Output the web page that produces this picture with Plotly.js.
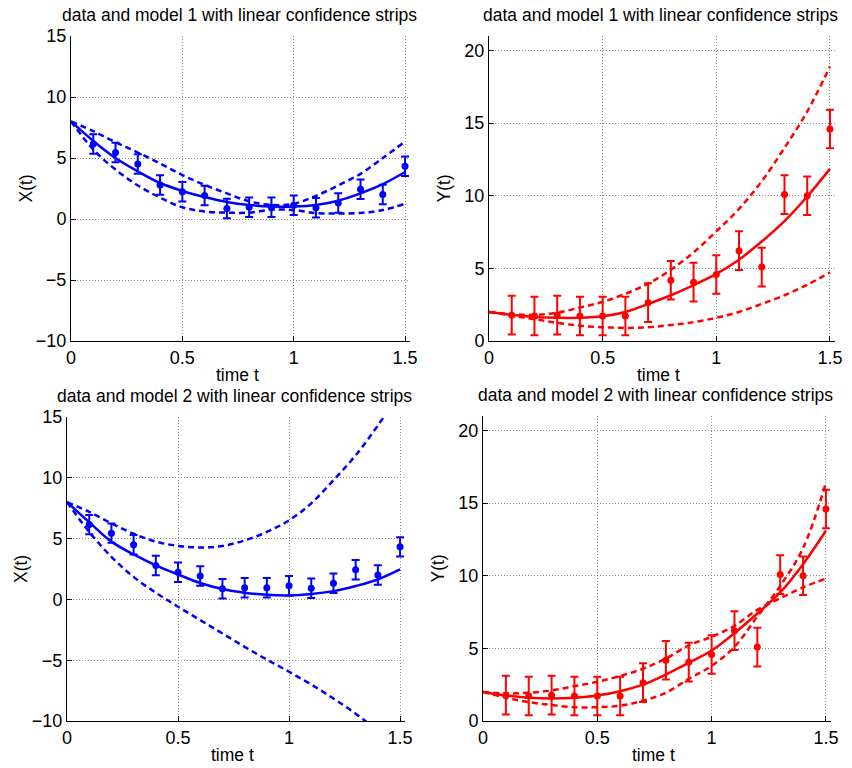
<!DOCTYPE html>
<html>
<head>
<meta charset="utf-8">
<script src="https://cdn.plot.ly/plotly-3.0.1.min.js"></script>
<style>html,body{margin:0;padding:0;background:#fff;}#chart{width:852px;height:768px;}</style>
</head>
<body>
<div id="chart"></div>
<script>
// measurement times and observed data
const tData = [0.1,0.2,0.3,0.4,0.5,0.6,0.7,0.8,0.9,1.0,1.1,1.2,1.3,1.4,1.5];
const xData = [6.15,5.45,4.5,2.78,2.24,1.93,0.87,0.96,0.96,1.12,0.92,1.32,2.44,2.0,4.32];
const yData = [1.78,1.72,1.78,1.72,1.72,1.72,2.64,4.18,4.05,4.58,6.22,5.09,10.08,10.0,14.6];
const xErr = 0.8;
const yErr = 1.33;

// model curves
const tModel = [0,0.1,0.2,0.3,0.4,0.5,0.6,0.7,0.8,0.9,1.0,1.1,1.2,1.3,1.4,1.5];
// model 1
const x1Fit = [8,6.4,5.0,3.9,2.95,2.3,1.8,1.4,1.15,1.02,1.02,1.15,1.5,2.1,2.85,3.85];
const x1Up  = [8,7.2,6.3,5.45,4.55,3.6,2.8,2.1,1.45,1.15,1.25,1.9,2.75,3.7,5.0,6.35];
const x1Lo  = [8,5.7,4.05,2.75,1.75,0.96,0.62,0.52,0.52,0.76,0.74,0.48,0.45,0.5,0.74,1.25];
const y1Fit = [2.0,1.8,1.65,1.6,1.6,1.7,2.0,2.55,3.15,3.85,4.62,5.6,6.85,8.25,9.95,11.85];
const y1Up  = [2.0,1.85,1.8,1.95,2.3,2.7,3.25,3.95,4.9,6.1,7.55,9.1,11.0,13.3,15.8,18.9];
const y1Lo  = [2.0,1.75,1.5,1.25,1.05,0.95,0.9,0.95,1.1,1.3,1.6,2.0,2.55,3.15,3.87,4.72];
// model 2
const x2Fit = [8,6.35,4.75,3.7,2.8,2.05,1.35,0.85,0.55,0.38,0.33,0.44,0.68,1.1,1.64,2.46];
const x2Up  = [8,7.2,6.25,5.4,4.75,4.4,4.27,4.4,4.85,5.55,6.5,7.9,9.8,11.85,14.3,17.0];
const x2Lo  = [8,5.55,3.5,1.85,0.55,-0.6,-1.7,-2.8,-3.9,-4.95,-5.95,-7.0,-8.15,-9.4,-10.8,-12.3];
const y2Fit = [2.0,1.75,1.6,1.55,1.6,1.75,2.05,2.5,3.2,4.0,4.85,6.05,7.4,8.85,10.8,13.1];
const y2A   = [2.0,1.9,1.95,2.1,2.4,2.7,3.1,3.6,4.3,5.2,5.8,6.55,7.65,8.45,9.2,9.8];
const y2B   = [2.0,1.6,1.3,1.1,0.95,0.95,1.05,1.4,1.95,2.9,3.8,5.1,7.2,9.3,11.9,16.4];

const titleText = ['data and model 1 with linear confidence strips','data and model 1 with linear confidence strips',
                   'data and model 2 with linear confidence strips','data and model 2 with linear confidence strips'];
const yLabels = ['X(t)','Y(t)','X(t)','Y(t)'];
const xLabel = 'time t';

const BLUE = '#0000ff', RED = '#ff0000';
const FONT = 'Liberation Sans, Arial, Helvetica, sans-serif';

function panel(ax, data, err, fit, up, lo, color) {
  const xa = 'x' + (ax===1?'':ax), ya = 'y' + (ax===1?'':ax);
  const line = (y, dash) => ({x: tModel, y: y, xaxis: xa, yaxis: ya, type:'scatter', mode:'lines',
      line:{color: color, width: 2.5, dash: dash, shape:'spline', smoothing: 1}, hoverinfo:'skip'});
  return [
    line(fit, 'solid'), line(up, '6px,4px'), line(lo, '6px,4px'),
    {x: tData, y: data, xaxis: xa, yaxis: ya, type:'scatter', mode:'markers',
     marker:{color: color, size: 7},
     error_y:{type:'constant', value: err, color: color, thickness: 2, width: 4}}
  ];
}

const traces = [].concat(
  panel(1, xData, xErr, x1Fit, x1Up, x1Lo, BLUE),
  panel(2, yData, yErr, y1Fit, y1Up, y1Lo, RED),
  panel(3, xData, xErr, x2Fit, x2Up, x2Lo, BLUE),
  panel(4, yData, yErr, y2Fit, y2A, y2B, RED)
);

const W = 852, H = 768;
// pixel boxes of the four plot areas [left, right, top, bottom]
const boxes = [[71,409.5,36,341],[489,834.5,36,341],[67,404.5,417,721],[483,830.5,416,721]];
const yRanges = [[-10,15],[0,21],[-10,15],[0,21]];

function xaxis(i) {
  const b = boxes[i];
  return {domain:[b[0]/W, b[1]/W], range:[0,1.52], anchor: 'y'+(i===0?'':i+1),
    tickvals:[0,0.5,1,1.5], ticktext:['0','0.5','1','1.5'], ticks:'inside', ticklen:5, tickcolor:'#000',
    showline:true, linecolor:'#000', linewidth:1, mirror:false, zeroline:false,
    showgrid:true, gridcolor:'#8c8c8c', griddash:'1px,2px', gridwidth:1,
    tickfont:{family:FONT, size:18, color:'#000'}, fixedrange:true};
}
function yaxis(i) {
  const b = boxes[i];
  return {domain:[1-b[3]/H, 1-b[2]/H], range: yRanges[i], anchor: 'x'+(i===0?'':i+1),
    dtick:5, ticks:'inside', ticklen:5, tickcolor:'#000',
    showline:true, linecolor:'#000', linewidth:1, mirror:false, zeroline:false,
    showgrid:true, gridcolor:'#8c8c8c', griddash:'1px,2px', gridwidth:1,
    tickfont:{family:FONT, size:18, color:'#000'}, fixedrange:true};
}

const annotations = [];
boxes.forEach((b, i) => {
  annotations.push({text: titleText[i], xref:'paper', yref:'paper', x: ((b[0]+b[1])/2 - 1)/W,
    y: 1 - (b[2]-21)/H, xanchor:'center', yanchor:'middle', showarrow:false,
    font:{family:FONT, size:17.5, color:'#000'}});
  annotations.push({text: xLabel, xref:'paper', yref:'paper', x: ((b[0]+b[1])/2 - 3)/W,
    y: 1 - (b[3]+34)/H, xanchor:'center', yanchor:'middle', showarrow:false,
    font:{family:FONT, size:17.5, color:'#000'}});
  annotations.push({text: yLabels[i], xref:'paper', yref:'paper', x: (b[0]-46)/W,
    y: 1 - ((b[2]+b[3])/2)/H, xanchor:'center', yanchor:'middle', showarrow:false, textangle:-90,
    font:{family:FONT, size:17.5, color:'#000'}});
});

const layout = {
  width: W, height: H, margin:{l:0,r:0,t:0,b:0}, showlegend:false,
  paper_bgcolor:'#fff', plot_bgcolor:'#fff',
  xaxis: xaxis(0), yaxis: yaxis(0), xaxis2: xaxis(1), yaxis2: yaxis(1),
  xaxis3: xaxis(2), yaxis3: yaxis(2), xaxis4: xaxis(3), yaxis4: yaxis(3),
  annotations: annotations
};

Plotly.newPlot('chart', traces, layout, {displayModeBar:false, staticPlot:true});
</script>
</body>
</html>
